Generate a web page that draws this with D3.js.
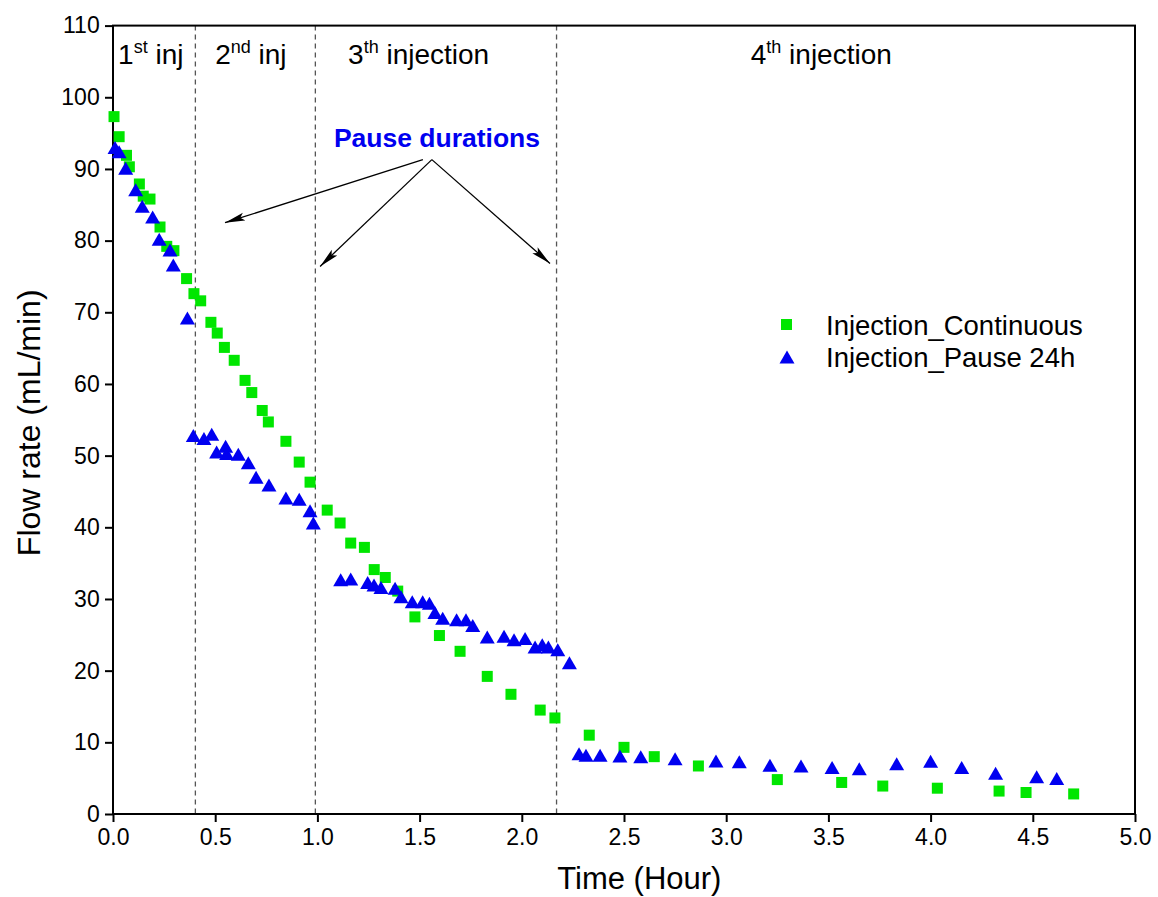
<!DOCTYPE html>
<html>
<head>
<meta charset="utf-8">
<script src="https://cdn.jsdelivr.net/npm/d3@7"></script>
<style>
  body { margin: 0; background: #fff; }
  svg { display: block; font-family: "Liberation Sans", Arial, sans-serif; }
</style>
</head>
<body>
<svg id="chart" width="1158" height="897"></svg>
<script>
// ---- data ----
const contX = [0.005,0.03,0.066,0.08,0.129,0.148,0.181,0.23,0.263,0.298,0.36,0.396,0.429,0.479,0.51,0.545,0.593,0.646,0.679,0.73,0.76,0.846,0.911,0.964,1.048,1.111,1.163,1.23,1.278,1.332,1.393,1.477,1.597,1.698,1.831,1.947,2.09,2.162,2.33,2.50,2.648,2.864,3.25,3.565,3.766,4.033,4.335,4.467,4.70];
const contY = [97.3,94.5,91.9,90.3,87.9,86.2,85.8,81.9,79.2,78.6,74.7,72.6,71.6,68.6,67.1,65.1,63.3,60.5,58.8,56.3,54.7,52.0,49.1,46.3,42.4,40.6,37.8,37.2,34.1,33.0,31.1,27.5,24.9,22.7,19.2,16.7,14.5,13.4,11.0,9.3,8.0,6.7,4.8,4.4,3.9,3.6,3.2,3.0,2.8];
const pauseX = [0.01,0.03,0.062,0.111,0.143,0.194,0.226,0.279,0.295,0.364,0.393,0.445,0.483,0.507,0.551,0.556,0.613,0.662,0.70,0.763,0.846,0.911,0.964,0.98,1.114,1.163,1.246,1.277,1.311,1.38,1.409,1.464,1.515,1.548,1.575,1.613,1.681,1.727,1.76,1.831,1.913,1.962,2.016,2.065,2.10,2.13,2.176,2.233,2.28,2.314,2.383,2.48,2.582,2.75,2.95,3.064,3.214,3.366,3.518,3.651,3.834,4.0,4.152,4.318,4.519,4.617];
const pauseY = [93.0,92.4,90.1,87.1,84.8,83.3,80.2,78.7,76.6,69.2,52.8,52.4,53.0,50.5,51.3,50.3,50.2,49.0,47.0,45.9,44.1,43.9,42.3,40.6,32.7,32.8,32.3,31.95,31.6,31.5,30.3,29.6,29.6,29.4,28.1,27.3,27.1,27.1,26.3,24.7,24.8,24.3,24.5,23.3,23.6,23.3,22.9,21.1,8.4,8.2,8.2,8.1,8.0,7.7,7.4,7.3,6.8,6.7,6.5,6.3,7.0,7.35,6.5,5.7,5.2,4.95];
const xTicks = [0,0.5,1,1.5,2,2.5,3,3.5,4,4.5,5];
const yTicks = [0,10,20,30,40,50,60,70,80,90,100,110];
const dividers = [0.403, 0.99, 2.17];
const seriesNames = ["Injection_Continuous", "Injection_Pause 24h"];
const injLabels = [
  {num: "1", sup: "st", rest: " inj", x: 0.025},
  {num: "2", sup: "nd", rest: " inj", x: 0.50},
  {num: "3", sup: "th", rest: " injection", x: 1.15},
  {num: "4", sup: "th", rest: " injection", x: 3.12}
];
const pauseLabel = "Pause durations";
const arrowFrom = [1.56, 91.3];
const arrowTo = [[0.548, 82.5], [1.013, 76.4], [2.138, 76.8]];

// ---- layout ----
const svg = d3.select("#chart");
const L = 113, R = 1135, T = 25.6, B = 814;
const x = d3.scaleLinear().domain([0, 5]).range([L, R]);
const y = d3.scaleLinear().domain([0, 110]).range([B, T]);
const green = "#00e600", blue = "#0000f0";

svg.append("defs").append("marker")
  .attr("id", "ah").attr("viewBox", "0 0 20 10").attr("refX", 20).attr("refY", 5)
  .attr("markerWidth", 20).attr("markerHeight", 10).attr("markerUnits", "userSpaceOnUse")
  .attr("orient", "auto")
  .append("path").attr("d", "M0,1 L20,5 L0,9 L4,5 Z").attr("fill", "#000");

// dashed dividers
svg.selectAll(".div").data(dividers).enter().append("line")
  .attr("x1", d => x(d)).attr("x2", d => x(d)).attr("y1", T).attr("y2", B)
  .attr("stroke", "#555").attr("stroke-width", 1.3).attr("stroke-dasharray", "5,4");

// axes
const xAxis = d3.axisBottom(x).tickValues(xTicks).tickFormat(d3.format(".1f")).tickSize(8).tickSizeOuter(0);
const yAxis = d3.axisLeft(y).tickValues(yTicks).tickFormat(d3.format("d")).tickSize(8).tickSizeOuter(0);
const gx = svg.append("g").attr("transform", `translate(0,${B})`).call(xAxis);
const gy = svg.append("g").attr("transform", `translate(${L},0)`).call(yAxis);
[gx, gy].forEach(g => {
  g.select(".domain").remove();
  g.selectAll(".tick line").attr("stroke", "#000").attr("stroke-width", 2);
  g.selectAll(".tick text").attr("font-size", 23).attr("fill", "#000")
    .attr("font-family", "'Liberation Sans', Arial, sans-serif");
});
gx.selectAll(".tick text").attr("dy", "0.85em");
gy.selectAll(".tick text").attr("dx", "-0.1em");

// frame
svg.append("rect").attr("x", L).attr("y", T).attr("width", R - L).attr("height", B - T)
  .attr("fill", "none").attr("stroke", "#000").attr("stroke-width", 2);

// axis titles
svg.append("text").attr("x", x(2.575)).attr("y", 889).attr("text-anchor", "middle")
  .attr("font-size", 31).text("Time (Hour)");
svg.append("text").attr("transform", `translate(40,${(T + B) / 2 + 3}) rotate(-90)`)
  .attr("text-anchor", "middle").attr("font-size", 32).text("Flow rate (mL/min)");

// injection labels
injLabels.forEach(d => {
  const t = svg.append("text").attr("x", x(d.x)).attr("y", 64).attr("font-size", 28);
  t.append("tspan").text(d.num);
  t.append("tspan").attr("dy", -11).attr("font-size", 18).text(d.sup);
  t.append("tspan").attr("dy", 11).text(d.rest);
});

// pause annotation
svg.append("text").attr("x", x(1.585)).attr("y", 147).attr("text-anchor", "middle")
  .attr("font-size", 26.5).attr("font-weight", "bold").attr("fill", blue).text(pauseLabel);
arrowTo.forEach((p, i) => {
  svg.append("line")
    .attr("x1", x(arrowFrom[0]) - (i === 0 ? 9 : 0)).attr("y1", y(arrowFrom[1]))
    .attr("x2", x(p[0])).attr("y2", y(p[1]))
    .attr("stroke", "#000").attr("stroke-width", 1.3).attr("marker-end", "url(#ah)");
});

// markers
const sq = 11;
svg.append("g").selectAll("rect").data(contX.map((v, i) => [v, contY[i]])).enter().append("rect")
  .attr("x", d => x(d[0]) - sq / 2).attr("y", d => y(d[1]) - sq / 2)
  .attr("width", sq).attr("height", sq).attr("fill", green);
const tw = 15, th = 13;
const tri = (cx, cy) => `M${cx},${cy - th / 2}L${cx + tw / 2},${cy + th / 2}L${cx - tw / 2},${cy + th / 2}Z`;
svg.append("g").selectAll("path").data(pauseX.map((v, i) => [v, pauseY[i]])).enter().append("path")
  .attr("d", d => tri(x(d[0]), y(d[1]))).attr("fill", blue);

// legend
const lg = svg.append("g");
lg.append("rect").attr("x", 781).attr("y", 319).attr("width", sq).attr("height", sq).attr("fill", green);
lg.append("path").attr("d", tri(787, 357)).attr("fill", blue);
lg.append("text").attr("x", 826).attr("y", 335).attr("font-size", 27.5).text(seriesNames[0]);
lg.append("text").attr("x", 826).attr("y", 367).attr("font-size", 27.5).text(seriesNames[1]);
</script>
</body>
</html>
